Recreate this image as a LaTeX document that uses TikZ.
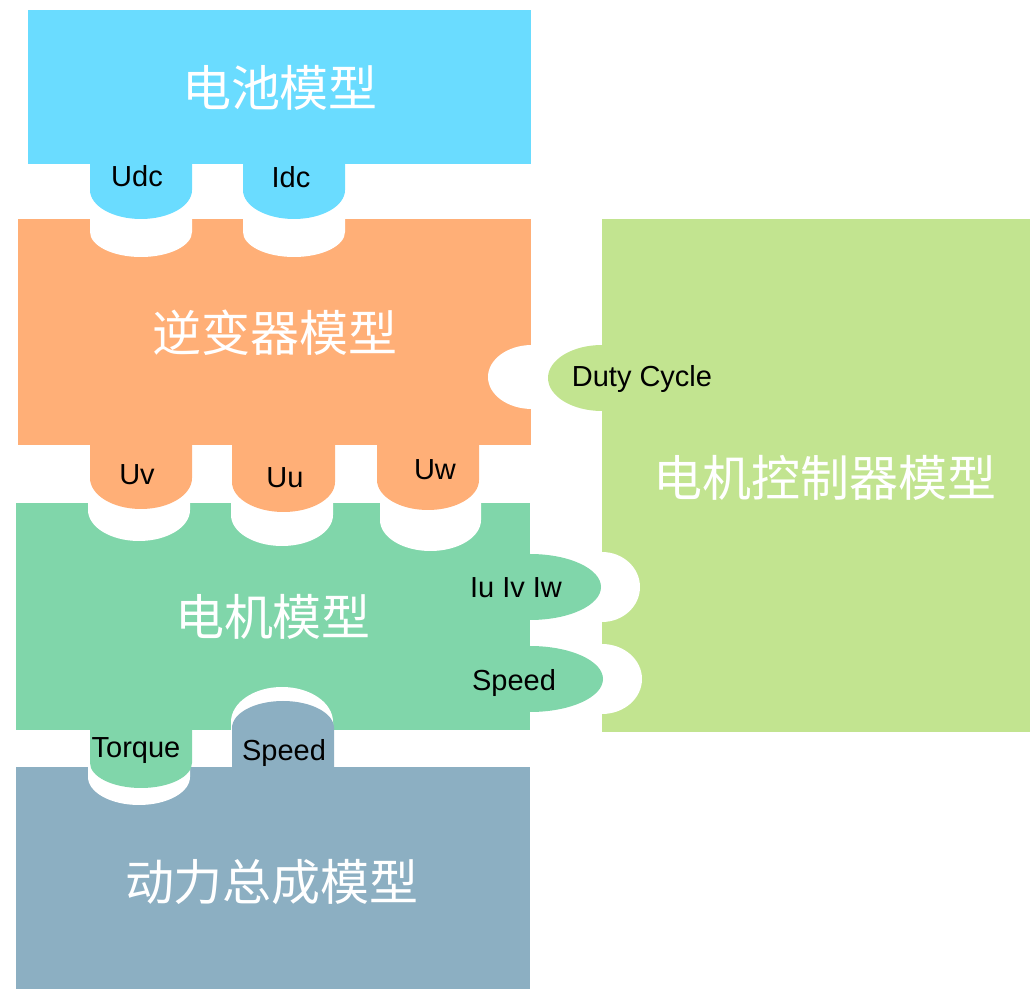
\documentclass[tikz,border=0pt]{standalone}
\usepackage{fontspec}
\setmainfont{Liberation Sans}
\newfontfamily\cjk{Noto Sans CJK SC}
\usetikzlibrary{positioning}
\definecolor{batcol}{HTML}{6ADCFF}
\definecolor{invcol}{HTML}{FFAF77}
\definecolor{ctrlcol}{HTML}{C2E490}
\definecolor{motcol}{HTML}{80D6AA}
\definecolor{ptcol}{HTML}{8CAFC2}
\tikzstyle{title} = [text=white, font=\cjk\fontsize{24.5}{29}\selectfont, inner sep=0pt]
\tikzstyle{port} = [text=black, font=\fontsize{14.5}{17}\selectfont, inner sep=0pt]
\tikzstyle{notch} = [fill=white]

\begin{document}
\begin{tikzpicture}[x=0.5pt, y=-0.5pt]
    \useasboundingbox (0,0) rectangle (1030,989);

    % Blocks
    \fill[batcol] (28,10) rectangle (531,164);
    \fill[invcol] (18,219) rectangle (531,445);
    \fill[ctrlcol] (602,219) rectangle (1030,732);
    \fill[motcol] (16,503) rectangle (530,730);
    \fill[ptcol] (16,767) rectangle (530,989);

    % Notches
    \fill[notch] (90,219) -- (90,232) arc[start angle=180, end angle=0, x radius=51, y radius=25] -- (192,219) -- cycle;
    \fill[notch] (243,219) -- (243,232) arc[start angle=180, end angle=0, x radius=51, y radius=25] -- (345,219) -- cycle;
    \fill[notch] (532,345) arc[start angle=270, end angle=90, x radius=44, y radius=32] -- cycle;
    \fill[notch] (88,503) -- (88,510) arc[start angle=180, end angle=0, x radius=51, y radius=31] -- (190,503) -- cycle;
    \fill[notch] (231,503) -- (231,515) arc[start angle=180, end angle=0, x radius=51, y radius=31] -- (333,503) -- cycle;
    \fill[notch] (380,503) -- (380,520) arc[start angle=180, end angle=0, x radius=50.5, y radius=31] -- (481,503) -- cycle;
    \fill[notch] (602,552) arc[start angle=-90, end angle=90, x radius=38, y radius=35] -- cycle;
    \fill[notch] (602,644) arc[start angle=-90, end angle=90, x radius=40, y radius=35] -- cycle;
    \fill[notch] (231,730) -- (231,722) arc[start angle=180, end angle=360, x radius=51, y radius=35] -- (333,730) -- cycle;
    \fill[notch] (88,767) -- (88,777) arc[start angle=180, end angle=0, x radius=51, y radius=28] -- (190,767) -- cycle;

    % Tabs
    \fill[batcol] (90,164) -- (90,190) arc[start angle=180, end angle=0, x radius=51, y radius=29] -- (192,164) -- cycle;
    \fill[batcol] (243,164) -- (243,190) arc[start angle=180, end angle=0, x radius=51, y radius=29] -- (345,164) -- cycle;
    \fill[ctrlcol] (602,345) arc[start angle=270, end angle=90, x radius=54, y radius=33] -- cycle;
    \fill[invcol] (90,445) -- (90,478) arc[start angle=180, end angle=0, x radius=51, y radius=31] -- (192,445) -- cycle;
    \fill[invcol] (232,445) -- (232,482) arc[start angle=180, end angle=0, x radius=51.5, y radius=30] -- (335,445) -- cycle;
    \fill[invcol] (377,445) -- (377,480) arc[start angle=180, end angle=0, x radius=51, y radius=30] -- (479,445) -- cycle;
    \fill[motcol] (530,554) arc[start angle=-90, end angle=90, x radius=71, y radius=33] -- cycle;
    \fill[motcol] (530,646) arc[start angle=-90, end angle=90, x radius=73, y radius=33] -- cycle;
    \fill[motcol] (90,730) -- (90,763) arc[start angle=180, end angle=0, x radius=51, y radius=25] -- (192,730) -- cycle;
    \fill[ptcol] (232,767) -- (232,728) arc[start angle=180, end angle=360, x radius=51, y radius=27] -- (334,767) -- cycle;

    % Titles
    \node (battery) [title] at (280,88) {电池模型};
    \node (inverter) [title] at (275,333) {逆变器模型};
    \node (motor) [title] at (273,617) {电机模型};
    \node (powertrain) [title] at (272,882) {动力总成模型};
    \node (controller) [title] at (825,478) {电机控制器模型};

    % Ports
    \node (udc) [port] at (137,176) {Udc};
    \node (idc) [port] at (291,177) {Idc};
    \node (duty) [port] at (642,379) {Duty Cycle};
    \node (uv) [port] at (137,475) {Uv};
    \node (uu) [port] at (285,478) {Uu};
    \node (uw) [port] at (435,470) {Uw};
    \node (iuvw) [port] at (516,588) {Iu Iv Iw};
    \node (speedm) [port] at (514,683) {Speed};
    \node (torque) [port] at (136,751) {Torque};
    \node (speedp) [port] at (284,753) {Speed};

\end{tikzpicture}
\end{document}
